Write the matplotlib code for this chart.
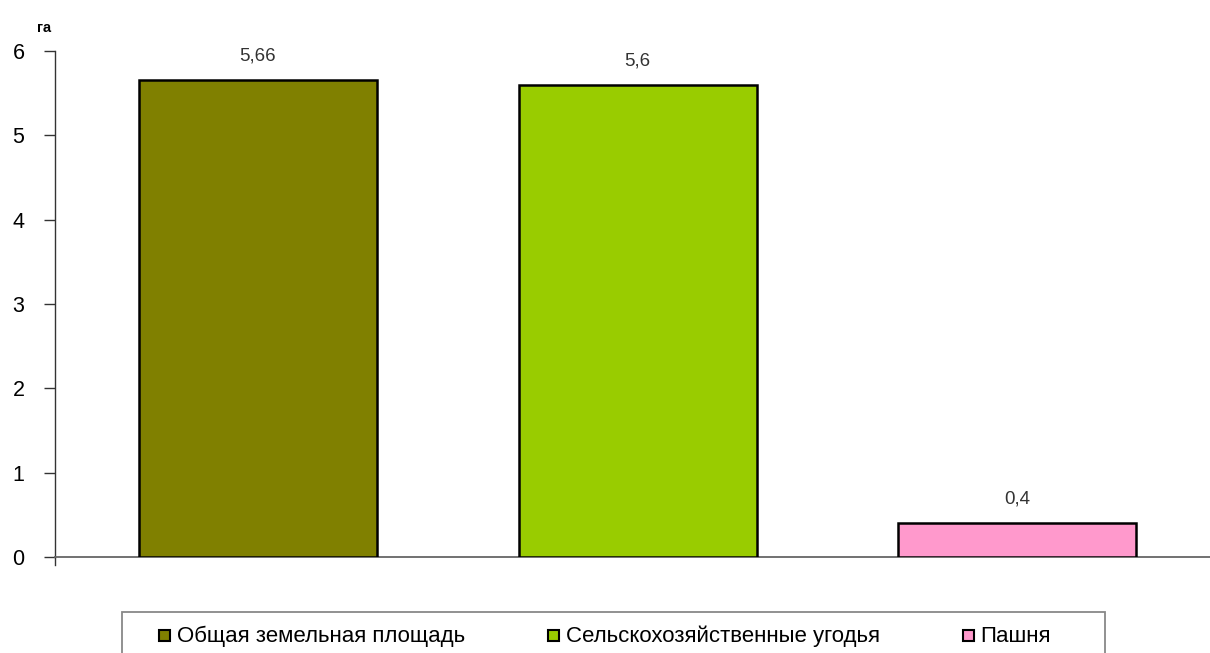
import matplotlib
matplotlib.use("Agg")
import matplotlib.pyplot as plt
from matplotlib.patches import Rectangle

plt.rcParams['font.family'] = ['Liberation Sans', 'DejaVu Sans']

categories = ["Общая земельная площадь", "Сельскохозяйственные угодья", "Пашня"]
values = [5.66, 5.6, 0.4]
value_labels = ["5,66", "5,6", "0,4"]
colors = ["#808000", "#99CC00", "#FF99CC"]
yticks = [0, 1, 2, 3, 4, 5, 6]
unit_label = "га"

W, H = 1210, 653
fig = plt.figure(figsize=(W / 100, H / 100), dpi=100)
ax = fig.add_axes([55 / W, 1 - 557 / H, 1 - 55 / W, (557 - 51) / H])

def px(x, y):
    return (x / W, 1 - y / H)

x = list(range(len(categories)))
ax.bar(x, values, width=238 / 379.5, color=colors, edgecolor="black", linewidth=1.8, zorder=3)
for xi, v, lab in zip(x, values, value_labels):
    ax.annotate(lab, (xi, v), xytext=(0, 11), textcoords="offset points",
                ha="center", va="bottom", fontsize=13.5, color="#333333")

xl = -203 / 379.5
ax.set_xlim(xl, 2 + (1210 - 1017) / 379.5)
ax.set_ylim(0, 6)
ax.set_yticks(yticks)
ax.set_yticklabels([str(t) for t in yticks], fontsize=15.5)
ax.set_xticks([])
for s in ["top", "right"]:
    ax.spines[s].set_visible(False)
ax.spines["left"].set_color("#333333")
ax.spines["bottom"].set_color("#666666")
ax.spines["left"].set_linewidth(1.0)
ax.spines["bottom"].set_linewidth(1.3)
ax.tick_params(axis="y", length=8, width=1, color="#333333", pad=14)
ax.plot([xl, xl], [0, -0.1], color="#333333", lw=1, clip_on=False)

fig.text(*px(44, 28), unit_label, fontsize=10.5, fontweight="bold", ha="center", va="center")

# legend box (manual layout so entries sit where they are in the reference)
fig.patches.append(Rectangle(px(122, 665), (1105 - 122) / W, (665 - 612) / H,
                             transform=fig.transFigure, facecolor="white",
                             edgecolor="#888888", linewidth=1.3))
marker_x = [159, 548, 963]
text_x = [177, 566, 980]
for mx, tx, c, lab in zip(marker_x, text_x, colors, categories):
    fig.patches.append(Rectangle(px(mx, 641), 11 / W, 11 / H, transform=fig.transFigure,
                                 facecolor=c, edgecolor="black", linewidth=1.5))
    fig.text(*px(tx, 636), lab, fontsize=16, ha="left", va="center", color="black")

fig.savefig("out.png", dpi=100)
